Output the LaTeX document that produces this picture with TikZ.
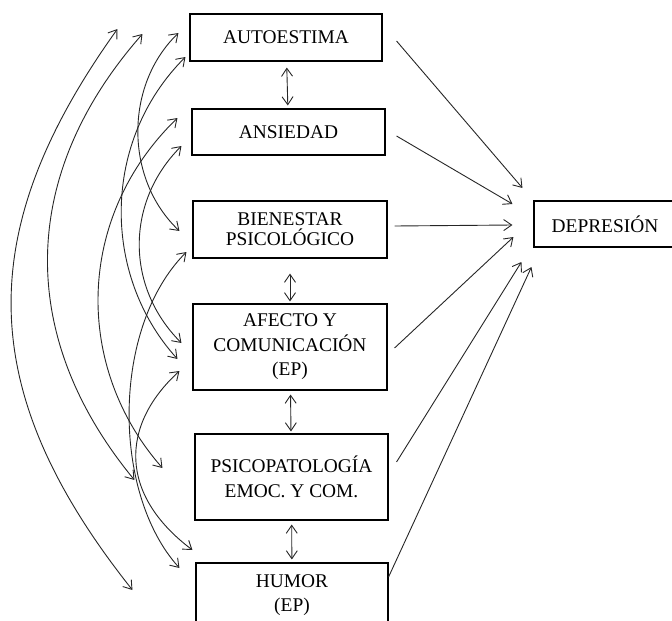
\documentclass[tikz,border=0pt]{standalone}
\usepackage{fontspec}
\setmainfont{Liberation Serif}
\usetikzlibrary{arrows.meta}

\begin{document}
\begin{tikzpicture}[%
		x=1pt,y=-1pt,
		>={Straight Barb[length=8pt,width=11pt]},
		caja/.style={%
			draw,%
			line width=1.1pt,%
			align=center,%
			inner sep=0pt,%
			font=\fontsize{19.4}{24.5}\selectfont},%
		flecha/.style={->,line width=0.9pt,black!85},%
		doble/.style={<->,line width=0.9pt,black!85}%
		]

		\useasboundingbox (0,0) rectangle (672,621);
		\clip (0,0) rectangle (672,621);
		% variables
		\node[caja,minimum width=192pt,minimum height=47pt] (auto) at (286,37.5) {AUTOESTIMA};
		\node[caja,minimum width=193pt,minimum height=46pt] (ans) at (288.5,132) {ANSIEDAD};
		\node[caja,minimum width=194pt,minimum height=57pt,font=\fontsize{19.4}{20}\selectfont] (bien) at (290,229.5) {BIENESTAR\\PSICOLÓGICO};
		\node[caja,minimum width=194pt,minimum height=86pt] (afecto) at (290,347) {AFECTO Y\\COMUNICACIÓN\\(EP)};
		\node[caja,minimum width=193pt,minimum height=86pt] (psico) at (291.5,477) {PSICOPATOLOGÍA\\EMOC. Y COM.};
		\node[caja,minimum width=192pt,minimum height=64pt] (humor) at (292,595) {HUMOR\\(EP)};
		\node[caja,minimum width=142pt,minimum height=46pt] (dep) at (605,224) {DEPRESIÓN};
		% relaciones entre vecinos
		\draw[doble,shorten <=6pt,shorten >=3pt] (auto) -- (ans);
		\draw[doble,shorten <=15pt,shorten >=2pt] (bien) -- (afecto);
		\draw[doble,shorten <=4pt,shorten >=2pt] (afecto) -- (psico);
		\draw[doble,shorten <=4pt,shorten >=3pt] (psico) -- (humor);
		% correlaciones
		\draw[doble] ([shift={(-72,-8.5)}]auto.west) .. controls +(-144,201) and +(-159,-200) .. ([shift={(-63,-5)}]humor.west);
		\draw[doble] ([shift={(-47,-3.5)}]auto.west) .. controls +(-125,142) and +(-117,-142) .. ([shift={(-60,3)}]psico.west);
		\draw[doble] ([shift={(-11,-4.5)}]auto.west) .. controls +(-54,52) and +(-55,-52) .. ([shift={(-13,1.5)}]bien.west);
		\draw[doble] ([shift={(-4,19.5)}]auto.west) .. controls +(-84,84) and +(-76,-84) .. ([shift={(-15,12)}]afecto.west);
		\draw[doble] ([shift={(-14,-14)}]ans.west) .. controls +(-103,100) and +(-88,-100) .. ([shift={(-32,-9)}]psico.west);
		\draw[doble] ([shift={(-10,14)}]ans.west) .. controls +(-56,56) and +(-56,-56) .. ([shift={(-11,-4)}]afecto.west);
		\draw[doble] ([shift={(-6,22.5)}]bien.west) .. controls +(-75,75) and +(-68,-75) .. ([shift={(-16,-27)}]humor.west);
		\draw[doble] ([shift={(-13,24)}]afecto.west) .. controls +(-60,55) and +(-73,-55) .. ([shift={(-3,-45)}]humor.west);
		% efectos sobre la depresion
		\draw[flecha] ([shift={(14,3.5)}]auto.east) -- ([shift={(-11,-36)}]dep.west);
		\draw[flecha] ([shift={(11,4)}]ans.east) -- ([shift={(-21,-20)}]dep.west);
		\draw[flecha] ([shift={(7,-3.5)}]bien.east) -- ([shift={(-21,1)}]dep.west);
		\draw[flecha] ([shift={(7,1)}]afecto.east) -- ([shift={(-20,13)}]dep.west);
		\draw[flecha] ([shift={(8,-15)}]psico.east) -- ([shift={(-12,38)}]dep.west);
		\draw[flecha] ([shift={(0,-18)}]humor.east) -- ([shift={(-2,43)}]dep.west);
	\end{tikzpicture}
\end{document}
